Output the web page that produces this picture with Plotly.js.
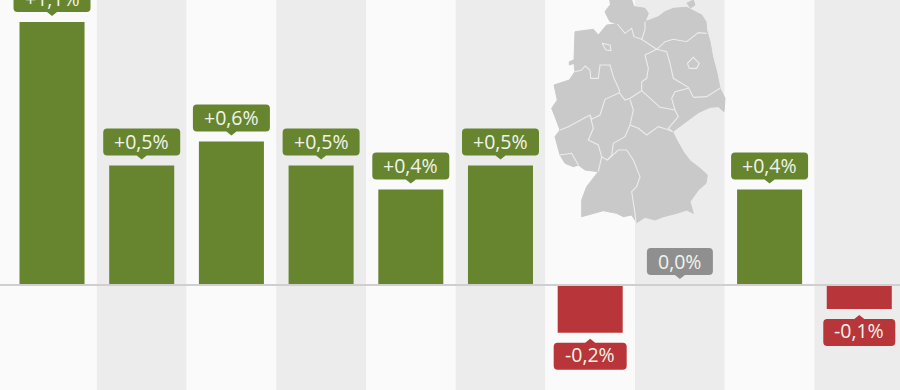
<!DOCTYPE html>
<html><head><meta charset="utf-8">
<script src="https://cdn.plot.ly/plotly-3.0.1.min.js"></script>
<style>html,body{margin:0;padding:0;background:#fafafa}#c{width:900px;height:390px}</style>
</head><body><div id="c"></div>
<script>
const positions = [0,1,2,3,4,5,6,7,8,9];
const values = [1.1,0.5,0.6,0.5,0.4,0.5,-0.2,0,0.4,-0.1];
const labels = ["+1,1%","+0,5%","+0,6%","+0,5%","+0,4%","+0,5%","-0,2%","0,0%","+0,4%","-0,1%"];
const pillWidths = [77,77,77,77,77,77,73,66,77,72];
const GREEN="#67852f", RED="#b83639", GREY="#8f8f8f";
const colorOf = v => v>0?GREEN:(v<0?RED:GREY);

// Germany map in its own hidden map units: silhouette plus inner state borders
const countryOutline = [[238,0],[305,0],[312,20],[345,25],[355,40],[345,65],[365,58],[385,50],[405,35],[430,25],[470,22],[495,35],[515,45],[528,65],[530,90],[540,125],[548,170],[560,215],[570,265],[585,295],[582,335],[565,320],[540,322],[505,338],[460,372],[428,395],[440,420],[460,455],[480,482],[510,505],[532,525],[528,550],[505,570],[480,605],[490,640],[470,630],[440,640],[400,650],[375,660],[345,652],[320,668],[305,645],[280,650],[260,640],[220,632],[190,640],[155,650],[155,600],[170,560],[205,515],[165,510],[145,495],[130,500],[105,490],[90,465],[75,410],[90,390],[75,350],[65,325],[82,300],[72,255],[118,240],[135,215],[132,190],[118,195],[118,185],[132,180],[135,95],[190,88],[205,105],[230,75],[262,72],[240,65],[232,50],[225,35],[240,15]];
const islandOutline = [[470,10],[490,0],[495,15],[480,25]];
const stateBorders = [
  [[262,72],[285,100],[305,85],[312,110],[335,118],[380,148]],
  [[345,65],[345,90],[335,118]],
  [[380,148],[405,125],[430,118],[470,125],[505,98],[530,100]],
  [[380,148],[345,165],[355,205],[350,235],[335,245],[335,272]],
  [[380,148],[410,155],[420,190],[430,235],[475,262],[490,292]],
  [[475,265],[435,275],[425,295],[435,330]],
  [[490,292],[530,290],[570,265]],
  [[335,272],[360,295],[390,322],[435,330]],
  [[435,330],[445,350],[415,385],[428,395]],
  [[335,272],[300,295],[285,300],[268,278]],
  [[300,298],[310,330],[300,375]],
  [[300,375],[325,385],[350,405],[385,380],[410,388],[428,395]],
  [[300,375],[285,410],[250,430],[245,465],[232,480]],
  [[135,215],[155,210],[165,198],[180,210],[182,235],[205,235],[210,195],[240,195],[250,230],[268,270],[268,278]],
  [[268,278],[225,298],[210,345],[185,358],[180,345]],
  [[180,345],[115,380],[90,390]],
  [[180,345],[190,385],[175,420],[205,435],[215,470],[205,515]],
  [[215,470],[232,480],[265,450],[290,450],[310,480],[330,530],[320,560],[305,575],[315,640],[318,668]],
  [[90,465],[125,460],[145,495]],
  [[216,130],[240,135],[243,152],[228,150],[216,130]],
  [[472,190],[490,172],[508,190],[500,205],[478,205],[472,190]]
];
const MAPGREY="#c9c9c9", BORDER="#ececec";
const xs = p=>p.map(q=>q[0]), ys = p=>p.map(q=>q[1]);
const mapTraces = [countryOutline,islandOutline].map(p=>({
  type:"scatter",mode:"lines",xaxis:"x2",yaxis:"y2",x:xs(p),y:ys(p),
  fill:"toself",fillcolor:MAPGREY,line:{color:MAPGREY,width:1},hoverinfo:"skip"
})).concat(stateBorders.map(p=>({
  type:"scatter",mode:"lines",xaxis:"x2",yaxis:"y2",x:xs(p),y:ys(p),
  line:{color:BORDER,width:1.1},hoverinfo:"skip"
})));

const bars = {type:"bar",x:positions,y:values,width:0.725,
  marker:{color:values.map(colorOf),line:{width:0}},hoverinfo:"skip"};

const shapes=[];
positions.forEach(i=>{
  shapes.push({type:"rect",layer:"below",xref:"x",yref:"paper",
    x0:i===0?-0.6:i-0.5,x1:i===9?9.6:i+0.5,y0:0,y1:1,
    fillcolor:i%2?"#ececec":"#fafafa",line:{width:0}});
});
const HH=13.5, GAP=10, TIP=5;
positions.forEach(i=>{
  const v=values[i], w=pillWidths[i]/2, r=4;
  const up = v>=0;
  const a = up? GAP : -GAP;
  const b = up? GAP+2*HH : -(GAP+2*HH);
  const d = up? 1 : -1;
  const tipY = up? GAP-TIP+1 : -(GAP-TIP+1);
  const path=`M ${-w+r} ${a} L -5 ${a} L 0 ${tipY} L 5 ${a} L ${w-r} ${a} Q ${w} ${a} ${w} ${a+d*r} L ${w} ${b-d*r} Q ${w} ${b} ${w-r} ${b} L ${-w+r} ${b} Q ${-w} ${b} ${-w} ${b-d*r} L ${-w} ${a+d*r} Q ${-w} ${a} ${-w+r} ${a} Z`;
  shapes.push({type:"path",layer:"above",xref:"x",yref:"y",xsizemode:"pixel",ysizemode:"pixel",
    xanchor:i,yanchor:v,path:path,fillcolor:colorOf(v),line:{width:0}});
});
shapes.push({type:"line",layer:"above",xref:"paper",yref:"y",x0:0,x1:1,y0:0,y1:0,line:{color:"#cfcfcf",width:2}});

const annotations=positions.map(i=>({
  xref:"x",yref:"y",x:i,y:values[i],text:labels[i],showarrow:false,
  yshift:values[i]<0?-22:24,xanchor:"center",yanchor:"middle",
  font:{family:"'Open Sans',sans-serif",size:19.5,color:"#f1f4ea"}
}));

Plotly.newPlot("c",[...mapTraces,bars],{
  width:900,height:390,margin:{l:0,r:0,t:0,b:0},showlegend:false,
  paper_bgcolor:"#fafafa",plot_bgcolor:"rgba(0,0,0,0)",
  xaxis:{range:[-0.58,9.454],visible:false,fixedrange:true},
  yaxis:{range:[-0.439,1.192],visible:false,fixedrange:true},
  xaxis2:{range:[-1590,1110],visible:false,overlaying:"x",fixedrange:true},
  yaxis2:{range:[1170,0],visible:false,overlaying:"y",fixedrange:true},
  shapes:shapes,annotations:annotations
},{displayModeBar:false,staticPlot:true});
</script></body></html>
